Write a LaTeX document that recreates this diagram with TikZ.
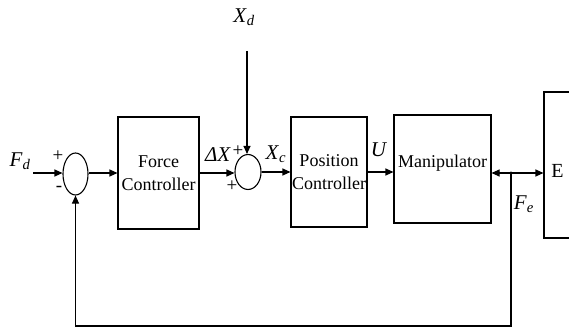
\documentclass[tikz,border=0pt]{standalone}
\usepackage{fontspec}
\setmainfont{Liberation Serif}
\usetikzlibrary{arrows.meta,shapes.geometric}
\tikzset{
  blk/.style={draw, line width=1.1pt, minimum width=#1, inner sep=0pt},
  sumj/.style={draw, ellipse, line width=1.1pt, minimum width=25pt, minimum height=#1, inner sep=0pt},
  arr/.style={line width=1.1pt, -{Triangle[length=8pt,width=7pt]}},
  dbl/.style={line width=1.1pt, {Triangle[length=8pt,width=7pt]}-{Triangle[length=8pt,width=7pt]}},
  lbl/.style={font=\fontsize{18}{20}\selectfont, inner sep=0pt},
  sig/.style={font=\fontsize{21}{22}\selectfont, inner sep=0pt},
  sgn/.style={font=\fontsize{19}{20}\selectfont, inner sep=0pt},
}
\newcommand{\sig}[2]{\textit{#1}\textsubscript{\textit{#2}}}
\begin{document}
\begin{tikzpicture}[x=1pt, y=-1pt]
\clip (0,0) rectangle (569,331);
\useasboundingbox (0,0) rectangle (569,331);
% summing junctions
\node[sumj=42pt] (s1) at (75.5,174) {};
\node[sumj=35pt, minimum width=26pt] (s2) at (248,172) {};
% blocks
\node[blk=81pt, minimum height=112pt, align=center, lbl, font=\fontsize{18}{23}\selectfont] (fc) at (158.5,173) {Force\\Controller};
\node[blk=76pt, minimum height=110pt, align=center, font=\fontsize{18}{23}\selectfont] (pc) at (329,172) {Position\\Controller};
\node[blk=97pt, minimum height=108pt] (man) at (442.5,169) {};
\node[lbl] (mantxt) at (442.5,163) {Manipulator};
\node[blk=60pt, minimum height=146pt] (env) at (574,165) {};
\node[lbl, font=\fontsize{20}{22}\selectfont] (envtxt) at (557.5,171) {E};
% coordinates
\coordinate (fdin) at (33,173);
\coordinate (xdtop) at (247,51);
\coordinate (dot) at (511,173);
\coordinate (fbR) at (511,326);
% connectors
\draw[arr] (fdin) -- (s1.west |- fdin);
\draw[arr] (s1.east |- 0,173) -- (fc.west |- 0,173);
\draw[arr] (fc.east |- 0,173) -- (s2.west |- 0,173);
\draw[arr] (xdtop) -- (xdtop |- s2.north);
\draw[arr] (s2.east |- 0,172) -- (pc.west |- 0,172);
\draw[arr] (pc.east |- 0,172) -- (man.west |- 0,172);
\draw[dbl] (man.east |- dot) -- (env.west |- dot);
\fill (dot) circle (1.6pt);
\draw[arr] (dot) -- (fbR) -| (s1.south);
% labels
\node[sig] (lfd) at (20,161) {\sig{F}{d}};
\node[sig] (lxd) at (244,17) {\sig{X}{d}};
\node[sig] (ldx) at (218,155) {\textit{ΔX}};
\node[sig] (lxc) at (276,154) {\sig{X}{c}};
\node[sig] (lu) at (379,150) {\textit{U}};
\node[sig] (lfe) at (524,204) {\sig{F}{e}};
\node[sgn] (p1) at (58,156) {+};
\node[sgn] (m1) at (59,189) {-};
\node[sgn] (p2) at (238,151) {+};
\node[sgn] (p3) at (232,186) {+};
\end{tikzpicture}
\end{document}
